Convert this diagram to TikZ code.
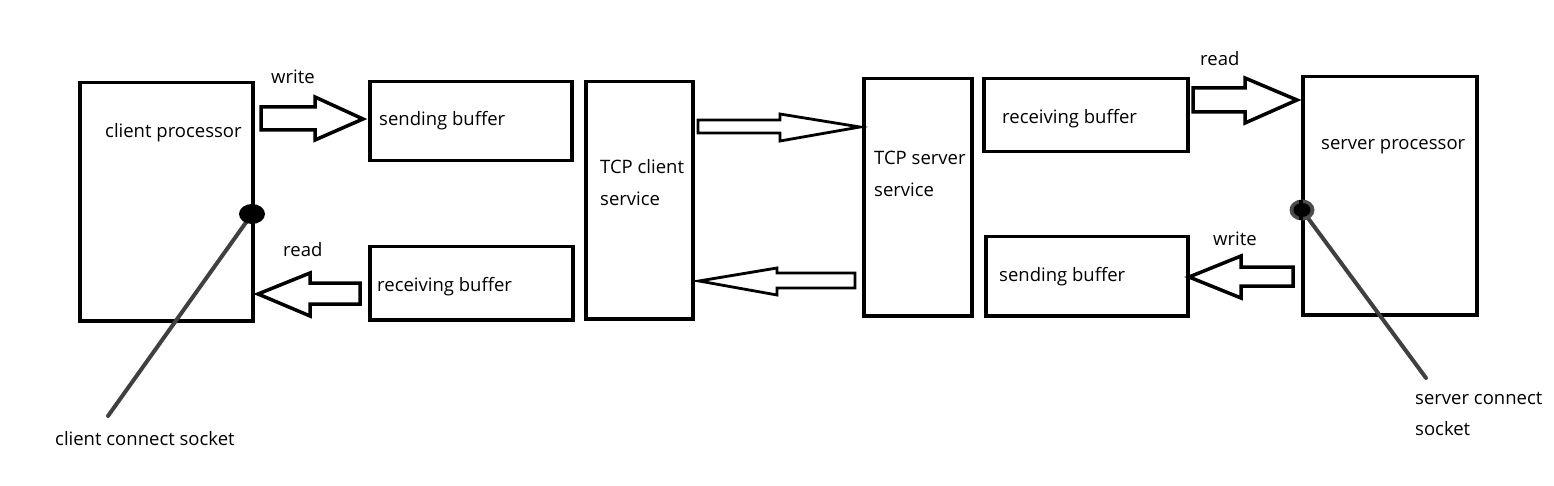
\documentclass[tikz,border=0pt]{standalone}
\usepackage{fontspec}
\setmainfont{Open Sans}
\begin{document}
\begin{tikzpicture}[x=1pt,y=-1pt,
  box/.style={draw=black,line width=3.5pt,inner sep=0pt,anchor=north west},
  lbl/.style={anchor=west,inner sep=0pt,yshift=-2pt,font=\fontsize{18.5}{18.5}\selectfont,text=black},
  barrow/.style={draw=black,line width=3.5pt,line join=miter,fill=white},
  barrowthin/.style={draw=black,line width=2.8pt,line join=miter,fill=white},
  sockline/.style={draw=black!75,line width=4pt,line cap=round}]
\useasboundingbox (0,0) rectangle (1554,486);
% boxes
\node[box,minimum width=173,minimum height=238] (cp) at (78,81) {};
\node[box,minimum width=202,minimum height=79] (csb) at (368,80) {};
\node[box,minimum width=203,minimum height=73] (crb) at (368,245) {};
\node[box,minimum width=107,minimum height=237] (tcs) at (584,80) {};
\node[box,minimum width=108,minimum height=237] (tss) at (862,77) {};
\node[box,minimum width=204,minimum height=73] (srb) at (982,77) {};
\node[box,minimum width=202,minimum height=79] (ssb) at (984,235) {};
\node[box,minimum width=174,minimum height=238] (sp) at (1301,75) {};
% labels
\node[lbl] (t1) at (105,131) {client processor};
\node[lbl] (t2) at (379,119) {sending buffer};
\node[lbl] (t3) at (377,285) {receiving buffer};
\node[lbl] (t4) at (600,165) {TCP client};
\node[lbl] (t5) at (600,197) {service};
\node[lbl] (t6) at (874,156) {TCP server};
\node[lbl] (t7) at (874,188) {service};
\node[lbl] (t8) at (1002,117) {receiving buffer};
\node[lbl] (t9) at (1321,145) {server processor};
\node[lbl] (t10) at (999,275) {sending buffer};
\node[lbl] (w1) at (271,75) {write};
\node[lbl] (r1) at (283,248) {read};
\node[lbl] (r2) at (1200,57) {read};
\node[lbl] (w2) at (1213,237) {write};
\node[lbl] (cs) at (55,437) {client connect socket};
\node[lbl] (ss1) at (1415,396) {server connect};
\node[lbl] (ss2) at (1415,427) {socket};
% block arrows
\draw[barrow] (261,107) -- (315,107) -- (315,97) -- (363,119) -- (315,140) -- (315,130) -- (261,130) -- cycle;
\draw[barrow] (360,283) -- (310,283) -- (310,273) -- (258,294) -- (310,316) -- (310,304) -- (360,304) -- cycle;
\draw[barrowthin] (698,120) -- (780,120) -- (780,114) -- (860,127) -- (780,141) -- (780,133) -- (698,133) -- cycle;
\draw[barrowthin] (855,273) -- (777,273) -- (777,268) -- (699,281) -- (777,295) -- (777,288) -- (855,288) -- cycle;
\draw[barrow] (1193,88) -- (1245,88) -- (1245,78) -- (1297,100) -- (1245,123) -- (1245,112) -- (1193,112) -- cycle;
\draw[barrow] (1293,267) -- (1241,267) -- (1241,256) -- (1189,277) -- (1241,298) -- (1241,286) -- (1293,286) -- cycle;
% sockets
\coordinate (cd) at (252,214);
\coordinate (sd) at (1302,210);
\coordinate (ce) at (108,416);
\coordinate (se) at (1426,378);
\draw[sockline] (cd) -- (ce);
\draw[sockline] (sd) -- (se);
\fill[black] (cd) ellipse [x radius=13, y radius=10];
\fill[black!70] (sd) ellipse [x radius=12.5, y radius=10.5];
\fill[black] (sd) ellipse [x radius=8.5, y radius=7];
\draw[black,line width=3.5pt] (1301,200) -- (1301,220);
\end{tikzpicture}
\end{document}
